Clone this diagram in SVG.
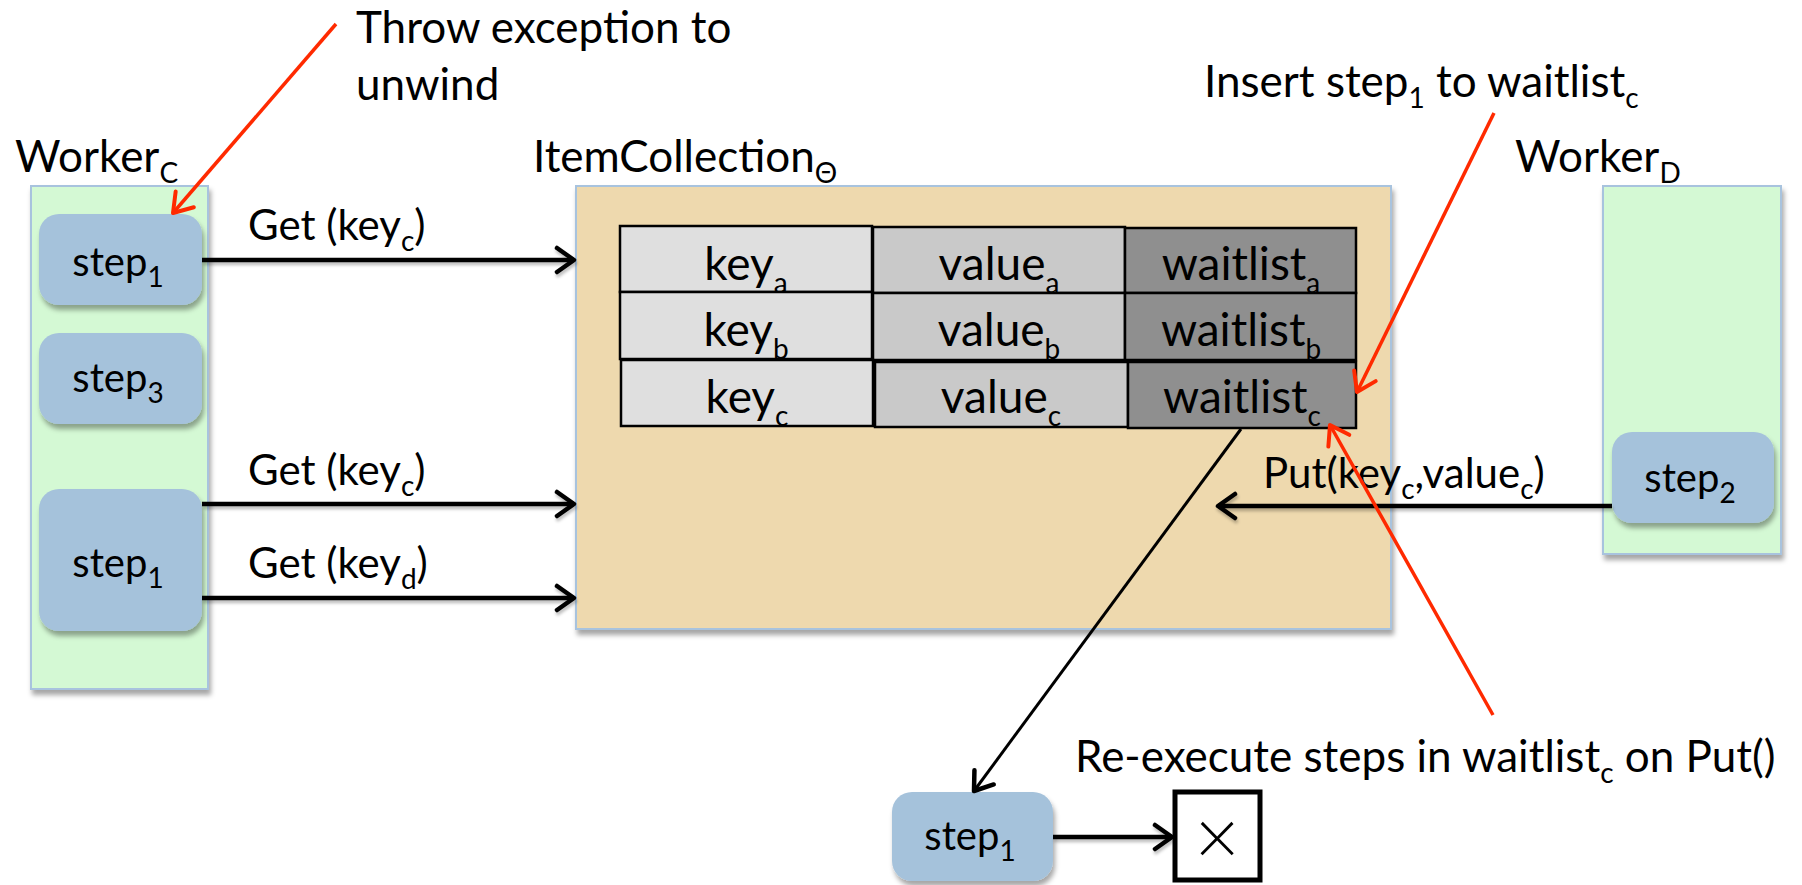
<svg xmlns="http://www.w3.org/2000/svg" width="1802" height="885" viewBox="0 0 1802 885">
  <defs>
    <filter id="shadow" x="-10%" y="-10%" width="130%" height="130%">
      <feDropShadow dx="2" dy="5" stdDeviation="2.5" flood-color="#000" flood-opacity="0.35"/>
    </filter>
    <filter id="lineShadow" x="-5%" y="-50%" width="110%" height="200%">
      <feDropShadow dx="1" dy="3" stdDeviation="1.5" flood-color="#000" flood-opacity="0.25"/>
    </filter>
    <marker id="arrowBlack" markerUnits="userSpaceOnUse" markerWidth="30" markerHeight="30" viewBox="0 0 30 30" refX="24" refY="15" orient="auto">
      <path d="M7,3 L24,15 L7,27" fill="none" stroke="#000" stroke-width="4.5" stroke-linecap="round" stroke-linejoin="round"/>
    </marker>
    <marker id="arrowRed" markerUnits="userSpaceOnUse" markerWidth="30" markerHeight="30" viewBox="0 0 30 30" refX="24" refY="15" orient="auto">
      <path d="M6,3 L24,15 L6,27" fill="none" stroke="#ff2a00" stroke-width="4" stroke-linecap="round" stroke-linejoin="round"/>
    </marker>
  </defs>
  <style>
    text { font-family: Lato, "Liberation Sans", sans-serif; fill: #000; }
    .note { font-size: 44px; }
    .lbl { font-size: 42px; }
    .step { font-size: 40px; text-anchor: middle; }
    .cell { font-size: 46px; text-anchor: middle; }
    .sub { font-size: 28px; }
    .worker { fill: #d4f9d4; stroke: #a8c3de; stroke-width: 2; }
    .coll { fill: #eed9ae; stroke: #a8c3de; stroke-width: 2; }
    .stepbox { fill: #a5c2db; }
    .kcell { fill: #dfdfdf; stroke: #000; stroke-width: 2.5; }
    .vcell { fill: #c9c9c9; stroke: #000; stroke-width: 2.5; }
    .wcell { fill: #8f8f8f; stroke: #000; stroke-width: 2.5; }
    .get { stroke: #000; stroke-width: 4.5; fill: none; }
    .thin { stroke: #000; stroke-width: 3; fill: none; }
    .red { stroke: #ff2a00; stroke-width: 3.5; fill: none; }
  </style>

  <!-- Worker C column with its steps -->
  <g id="workerC">
    <rect class="worker" x="31" y="186" width="177" height="503" filter="url(#shadow)"/>
    <text class="note" x="15" y="172">Worker<tspan class="sub" dy="11">C</tspan></text>
  </g>
  <g id="stepC1">
    <rect class="stepbox" x="39" y="214" width="163" height="91" rx="20" filter="url(#shadow)"/>
    <text class="step" x="118" y="276">step<tspan class="sub" dy="11">1</tspan></text>
  </g>
  <g id="stepC3">
    <rect class="stepbox" x="39" y="333" width="163" height="91" rx="20" filter="url(#shadow)"/>
    <text class="step" x="118" y="392">step<tspan class="sub" dy="11">3</tspan></text>
  </g>
  <g id="stepC1b">
    <rect class="stepbox" x="39" y="489" width="163" height="142" rx="20" filter="url(#shadow)"/>
    <text class="step" x="118" y="577">step<tspan class="sub" dy="11">1</tspan></text>
  </g>

  <!-- Item collection with its key/value/waitlist table -->
  <g id="itemCollection">
    <rect class="coll" x="576" y="186" width="815" height="443" filter="url(#shadow)"/>
    <text class="note" x="533" y="172">ItemCollection<tspan class="sub" dy="11">Θ</tspan></text>
  </g>
  <g id="rowA">
    <rect class="kcell" x="620" y="226" width="252" height="66"/>
    <rect class="vcell" x="873" y="227" width="252" height="66"/>
    <rect class="wcell" x="1125" y="228" width="231" height="65"/>
    <text class="cell" x="746" y="280">key<tspan class="sub" dy="13">a</tspan></text>
    <text class="cell" x="999" y="280">value<tspan class="sub" dy="13">a</tspan></text>
    <text class="cell" x="1241" y="280">waitlist<tspan class="sub" dy="13">a</tspan></text>
  </g>
  <g id="rowB">
    <rect class="kcell" x="620" y="292" width="252" height="67"/>
    <rect class="vcell" x="873" y="293" width="252" height="67"/>
    <rect class="wcell" x="1125" y="293" width="231" height="67"/>
    <text class="cell" x="746" y="346">key<tspan class="sub" dy="13">b</tspan></text>
    <text class="cell" x="999" y="346">value<tspan class="sub" dy="13">b</tspan></text>
    <text class="cell" x="1241" y="346">waitlist<tspan class="sub" dy="13">b</tspan></text>
  </g>
  <g id="rowC">
    <rect class="kcell" x="621" y="360" width="252" height="66"/>
    <rect class="vcell" x="875" y="362" width="253" height="65"/>
    <rect class="wcell" x="1128" y="362" width="228" height="66"/>
    <text class="cell" x="747" y="413">key<tspan class="sub" dy="13">c</tspan></text>
    <text class="cell" x="1001" y="413">value<tspan class="sub" dy="13">c</tspan></text>
    <text class="cell" x="1242" y="413">waitlist<tspan class="sub" dy="13">c</tspan></text>
  </g>

  <!-- Worker D column -->
  <g id="workerD">
    <rect class="worker" x="1603" y="186" width="178" height="368" filter="url(#shadow)"/>
    <text class="note" x="1515" y="172">Worker<tspan class="sub" dy="11">D</tspan></text>
  </g>
  <g id="stepD2">
    <rect class="stepbox" x="1612" y="432" width="162" height="91" rx="20" filter="url(#shadow)"/>
    <text class="step" x="1690" y="492">step<tspan class="sub" dy="11">2</tspan></text>
  </g>

  <!-- Re-executed step and its failure box -->
  <g id="stepRe1">
    <rect class="stepbox" x="892" y="792" width="161" height="89" rx="20" filter="url(#shadow)"/>
    <text class="step" x="970" y="850">step<tspan class="sub" dy="11">1</tspan></text>
  </g>
  <g id="failBox">
    <rect x="1175" y="792" width="85" height="88" fill="#fff" stroke="#000" stroke-width="5"/>
    <text x="1217" y="865" text-anchor="middle" style="font-size:78px;font-weight:300">×</text>
  </g>

  <!-- Annotations -->
  <g id="notes">
    <text class="note" x="356" y="43">Throw exception to</text>
    <text class="note" x="356" y="100">unwind</text>
    <text class="note" x="1204" y="97">Insert step<tspan class="sub" dy="11">1</tspan><tspan dy="-11"> to waitlist</tspan><tspan class="sub" dy="11">c</tspan></text>
    <text class="note" x="1075" y="772">Re-execute steps in waitlist<tspan class="sub" dy="11">c</tspan><tspan dy="-11"> on Put()</tspan></text>
  </g>

  <!-- Connectors -->
  <g id="connectors">
    <g filter="url(#lineShadow)">
      <line class="get" x1="202" y1="260" x2="574" y2="260" marker-end="url(#arrowBlack)"/>
      <line class="get" x1="202" y1="504" x2="574" y2="504" marker-end="url(#arrowBlack)"/>
      <line class="get" x1="202" y1="598" x2="574" y2="598" marker-end="url(#arrowBlack)"/>
      <line class="get" x1="1612" y1="506" x2="1218" y2="506" marker-end="url(#arrowBlack)"/>
      <line class="get" x1="1053" y1="837" x2="1172" y2="837" marker-end="url(#arrowBlack)"/>
    </g>
    <line class="thin" x1="1241" y1="429" x2="974" y2="791" marker-end="url(#arrowBlack)"/>
    <text class="lbl" x="248" y="240">Get (key<tspan class="sub" dy="11">c</tspan><tspan dy="-11">)</tspan></text>
    <text class="lbl" x="248" y="485">Get (key<tspan class="sub" dy="11">c</tspan><tspan dy="-11">)</tspan></text>
    <text class="lbl" x="248" y="578">Get (key<tspan class="sub" dy="11">d</tspan><tspan dy="-11">)</tspan></text>
    <text class="lbl" x="1263" y="488">Put(key<tspan class="sub" dy="11">c</tspan><tspan dy="-11">,value</tspan><tspan class="sub" dy="11">c</tspan><tspan dy="-11">)</tspan></text>
    <line class="red" x1="336" y1="24" x2="173" y2="213" marker-end="url(#arrowRed)"/>
    <line class="red" x1="1494" y1="113" x2="1357" y2="392" marker-end="url(#arrowRed)"/>
    <line class="red" x1="1493" y1="715" x2="1330" y2="425" marker-end="url(#arrowRed)"/>
  </g>
</svg>
